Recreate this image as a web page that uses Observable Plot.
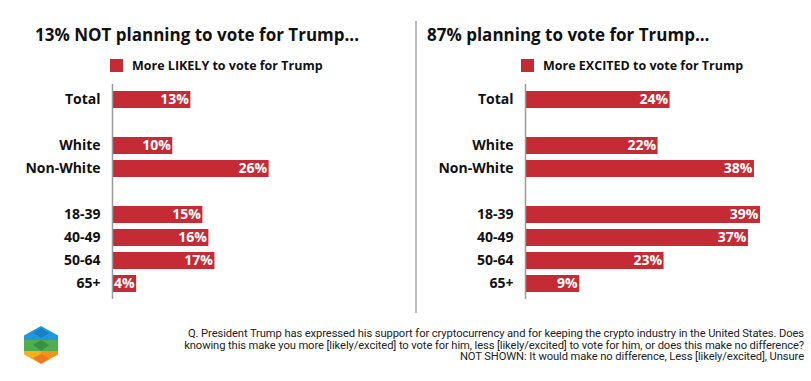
<!DOCTYPE html>
<html>
<head>
<meta charset="utf-8">
<script src="https://cdn.jsdelivr.net/npm/d3@7"></script>
<script src="https://cdn.jsdelivr.net/npm/@observablehq/plot@0.6"></script>
<style>
  html, body { margin: 0; padding: 0; background: #fff; }
  #root { position: relative; width: 811px; height: 381px; background: #fff; font-family: "Open Sans", sans-serif; color: #111; overflow: hidden; }
  .title { position: absolute; font-weight: 700; font-size: 17px; line-height: 20px; white-space: nowrap; color: #111; }
  .legend { position: absolute; display: flex; align-items: center; font-weight: 700; font-size: 12.5px; white-space: nowrap; color: #111; }
  .swatch { width: 13px; height: 13px; margin-right: 9px; }
  .sep { position: absolute; left: 415px; top: 21px; width: 2px; height: 292px; background: #bcbcbc; }
  .note { position: absolute; right: 7px; top: 328px; text-align: right; font-family: "Roboto", sans-serif; font-size: 11.2px; line-height: 11.5px; color: #222; white-space: nowrap; letter-spacing: -0.1px; }
  .plot { position: absolute; top: 0; }
  .logo { position: absolute; left: 22px; top: 324px; }
</style>
</head>
<body>
<div id="root"></div>
<script>
// ---- data ----
const categories = ["Total", "White", "Non-White", "18-39", "40-49", "50-64", "65+"];
const rowOrder = ["Total", "gap-1", "White", "Non-White", "gap-2", "18-39", "40-49", "50-64", "65+"];
const likelyValues = [13, 10, 26, 15, 16, 17, 4];
const excitedValues = [24, 22, 38, 39, 37, 23, 9];
const panelTitles = ["13% NOT planning to vote for Trump...", "87% planning to vote for Trump..."];
const seriesNames = ["More LIKELY to vote for Trump", "More EXCITED to vote for Trump"];
const noteLines = [
  "Q. President Trump has expressed his support for cryptocurrency and for keeping the crypto industry in the United States. Does",
  "knowing this make you more [likely/excited] to vote for him, less [likely/excited] to vote for him, or does this make no difference?",
  "NOT SHOWN: It would make no difference, Less [likely/excited], Unsure"
];
const barColor = "#c52b35";

const root = document.getElementById("root");

function panel(values, title, series, left, width, marginLeft, titleLeft, legendLeft) {
  const data = categories.map((c, i) => ({category: c, value: values[i]}));
  const chart = Plot.plot({
    width: width,
    height: 310,
    marginTop: 84,
    marginBottom: 11,
    marginLeft: marginLeft,
    marginRight: width - marginLeft - 241,
    style: {fontFamily: "'Open Sans', sans-serif", background: "transparent", overflow: "visible"},
    x: {domain: [0, 40], axis: null},
    y: {domain: rowOrder, paddingInner: 0.26, paddingOuter: 0.2, axis: null},
    marks: [
      Plot.barX(data, {x: "value", y: "category", fill: barColor}),
      Plot.ruleX([0], {stroke: "#9a9a9a", strokeWidth: 1.5}),
      Plot.axisY({ticks: categories, label: null, tickSize: 0, tickPadding: 12, fontSize: 14, fontWeight: "bold", fill: "#111", textAnchor: "end"}),
      Plot.text(data, {x: "value", y: "category", text: d => d.value + "%", textAnchor: "end", dx: -2, fill: "white", fontSize: 14, fontWeight: "bold"})
    ]
  });
  chart.classList.add("plot");
  chart.style.left = left + "px";
  root.appendChild(chart);

  const t = document.createElement("div");
  t.className = "title";
  t.style.left = titleLeft + "px";
  t.style.top = "25px";
  t.textContent = title;
  root.appendChild(t);

  const lg = document.createElement("div");
  lg.className = "legend";
  lg.style.left = legendLeft + "px";
  lg.style.top = "57px";
  lg.innerHTML = `<div class="swatch" style="background:${barColor}"></div><span></span>`;
  lg.querySelector("span").textContent = series;
  root.appendChild(lg);
}

panel(likelyValues, panelTitles[0], seriesNames[0], 0, 410, 112, 35, 110);
panel(excitedValues, panelTitles[1], seriesNames[1], 412, 399, 113, 427, 521);

const sep = document.createElement("div");
sep.className = "sep";
root.appendChild(sep);

const note = document.createElement("div");
note.className = "note";
note.innerHTML = noteLines.map(l => `<div></div>`).join("");
note.querySelectorAll("div").forEach((d, i) => d.textContent = noteLines[i]);
root.appendChild(note);

// logo (decorative)
const logo = document.createElement("div");
logo.className = "logo";
logo.innerHTML = `<svg width="38" height="42" viewBox="0 0 38 42">
  <defs><clipPath id="hex"><polygon points="19,2 36,11.5 36,30.5 19,40 2,30.5 2,11.5"/></clipPath></defs>
  <g clip-path="url(#hex)">
    <rect x="0" y="0" width="38" height="17" fill="#1f97dd"/>
    <polygon points="19,4 27,9 19,14 11,9" fill="#1a7fc4"/>
    <rect x="0" y="16" width="38" height="12" fill="#4fae4f"/>
    <polygon points="19,16 27,21 19,27 11,21" fill="#3b8f42"/>
    <rect x="0" y="27" width="19" height="14" fill="#f7b01d"/>
    <rect x="19" y="27" width="19" height="14" fill="#f3931d"/>
    <polygon points="19,30 27,34 19,40 11,34" fill="#ef7a1c"/>
  </g>
</svg>`;
root.appendChild(logo);
</script>
</body>
</html>
